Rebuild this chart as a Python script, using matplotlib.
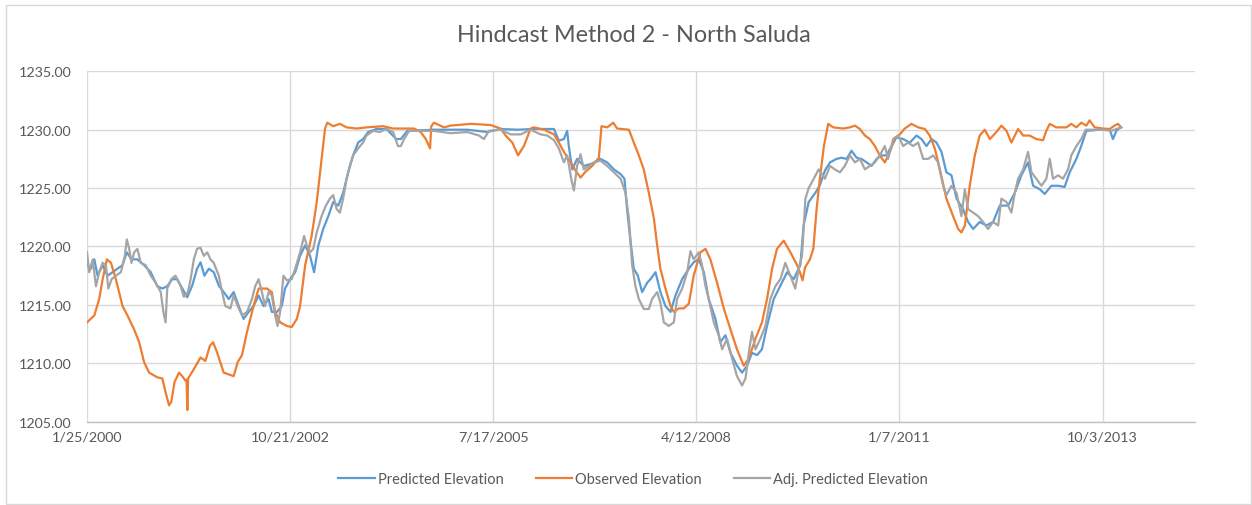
import numpy as np
import pandas as pd
import matplotlib
matplotlib.use("Agg")
import matplotlib.pyplot as plt
from matplotlib.patches import Rectangle

# days are counted from the first date on the axis (1/25/2000)
start_date = "2000-01-25"

obs_days = [0, 36, 60, 77, 98, 118, 142, 175, 199, 232, 257, 281, 306, 346, 371, 387, 404, 415,
            431, 453, 469, 485, 490, 494, 498, 526, 559, 583, 605, 621, 641, 673, 722, 742, 763,
            788, 820, 845, 886, 910, 926, 951, 984, 1008, 1033, 1049, 1074, 1106, 1131, 1155,
            1172, 1183, 1212, 1245, 1278, 1327, 1376, 1458, 1507,
            1545, 1610, 1643, 1668, 1689, 1695, 1708, 1758, 1790, 1889, 1987, 2036, 2061, 2094,
            2122, 2151, 2184, 2200, 2250, 2299, 2323, 2348, 2381, 2405, 2430, 2454, 2487, 2520,
            2533, 2561, 2591, 2610, 2668, 2692, 2717, 2741, 2766, 2791, 2807, 2823, 2848, 2873,
            2889, 2914, 2938, 2963, 2987, 3020, 3045, 3069, 3102, 3135, 3168, 3200, 3233, 3258,
            3291, 3323, 3348, 3373, 3397, 3430, 3463, 3496,
            3510, 3523, 3535, 3559, 3576, 3592, 3608, 3628, 3649, 3674, 3723, 3756, 3781, 3805,
            3830, 3854, 3879, 3903, 3928, 3953, 3977, 4002, 4026, 4059, 4092, 4125, 4149, 4174,
            4199, 4231, 4264, 4289, 4305, 4322, 4346, 4371, 4395, 4420, 4445, 4477, 4502, 4527,
            4551, 4568, 4584, 4609, 4641, 4674, 4707, 4723, 4740, 4772, 4822, 4846, 4871, 4895,
            4920, 4936, 4961, 5002, 5035, 5059, 5076, 5092]
observed = [1213.5, 1214.1, 1215.5, 1217.2, 1218.9, 1218.6, 1217.2, 1214.9, 1214.1, 1212.9, 1211.8,
            1210.1, 1209.2, 1208.8, 1208.7, 1207.5, 1206.4, 1206.7, 1208.4, 1209.2, 1208.9, 1208.5,
            1208.6, 1206.0, 1208.7, 1209.5, 1210.5, 1210.2, 1211.5, 1211.8, 1210.9, 1209.2, 1208.9,
            1210.1, 1210.7, 1212.7, 1214.9, 1216.4, 1216.4, 1216.1, 1214.4, 1213.5, 1213.2, 1213.1,
            1213.8, 1214.9, 1218.4, 1220.9, 1223.8, 1227.5, 1230.1, 1230.6, 1230.3, 1230.5, 1230.2,
            1230.1, 1230.2, 1230.3, 1230.1,
            1230.1, 1230.1, 1229.8, 1229.2, 1228.4, 1230.3, 1230.6, 1230.2, 1230.35, 1230.5, 1230.4,
            1230.1, 1229.5, 1228.9, 1227.8, 1228.6, 1230.1, 1230.2, 1230.0, 1229.6, 1228.9, 1228.1,
            1227.2, 1226.5, 1225.9, 1226.4, 1226.9, 1227.6, 1230.3, 1230.2, 1230.6, 1230.1, 1230.0,
            1228.9, 1227.8, 1226.6, 1224.6, 1222.4, 1220.1, 1218.1, 1216.4, 1214.9, 1214.4, 1214.7,
            1214.7, 1215.1, 1217.5, 1219.5, 1219.8, 1218.9, 1216.9, 1214.7, 1212.9, 1211.2, 1209.8,
            1210.4, 1212.1, 1213.5, 1215.5, 1218.1, 1219.8, 1220.5, 1219.5, 1218.4,
            1217.8, 1217.1, 1218.2, 1218.9, 1219.8, 1223.2, 1225.8, 1228.6, 1230.5, 1230.2, 1230.1,
            1230.2, 1230.35, 1230.06, 1229.5, 1229.2, 1228.6, 1227.8, 1227.2, 1228.1, 1229.3, 1229.6,
            1230.1, 1230.5, 1230.2, 1230.06, 1229.5, 1228.4, 1226.6, 1224.1, 1222.6, 1221.5, 1221.2,
            1221.8, 1225.2, 1227.8, 1229.5, 1230.0, 1229.2, 1229.8, 1230.35, 1229.9, 1228.9, 1229.5,
            1230.06, 1229.5, 1229.5, 1229.2, 1229.1, 1229.9, 1230.5, 1230.2, 1230.2, 1230.5, 1230.2,
            1230.6, 1230.35, 1230.8, 1230.2, 1230.1, 1230.06, 1230.35, 1230.5, 1230.2]

pred_days = [0, 20, 36, 52, 77, 101, 126, 150, 175, 196, 219, 248, 281, 314, 346, 371, 395, 420,
             444, 469, 493, 518, 542, 559, 578, 600, 624, 649, 673, 698, 722, 747, 771, 796, 820,
             845, 869, 894, 910, 935, 959, 975, 1000, 1025, 1049, 1074, 1098, 1118, 1139, 1163,
             1188, 1212, 1237, 1261, 1286, 1310, 1335, 1359, 1384, 1425, 1474, 1523,
             1545, 1577, 1708, 1872, 1971, 2036, 2118, 2200, 2299, 2323, 2348, 2364, 2372, 2389,
             2413, 2446, 2487, 2528, 2561, 2594, 2627, 2646, 2659, 2676, 2692, 2712, 2733, 2758,
             2774, 2799, 2823, 2848, 2873, 2897, 2930, 2963, 2987, 3012, 3037, 3061, 3094, 3118,
             3143, 3168, 3200, 3225, 3250, 3274, 3299, 3323, 3348, 3381, 3414, 3447, 3479, 3512,
             3528, 3553, 3586, 3607,
             3633, 3658, 3690, 3715, 3740, 3764, 3789, 3813, 3838, 3863, 3887, 3912, 3936, 3961,
             3985, 4018, 4051, 4084, 4108, 4133, 4158, 4182, 4207, 4231, 4256, 4281, 4313, 4338,
             4363, 4395, 4428, 4461, 4494, 4535, 4568, 4600, 4633, 4658, 4691, 4715, 4748, 4781,
             4813, 4838, 4871, 4895, 4920, 4986, 5035, 5051, 5068, 5087]
predicted = [1218.4, 1218.1, 1218.9, 1217.5, 1218.4, 1217.5, 1217.8, 1218.1, 1218.4, 1219.5, 1218.9,
             1218.9, 1218.4, 1217.8, 1216.6, 1216.4, 1216.6, 1217.2, 1217.2, 1216.4, 1215.65,
             1216.65, 1218.1, 1218.65, 1217.5, 1218.1, 1217.8, 1216.65, 1216.1, 1215.5, 1216.1,
             1214.9, 1213.8, 1214.4, 1214.9, 1215.8, 1214.9, 1215.5, 1214.4, 1214.4, 1214.9, 1216.4,
             1217.2, 1217.8, 1219.2, 1220.1, 1219.2, 1217.8, 1220.1, 1221.5, 1222.6, 1223.8, 1223.5,
             1224.6, 1226.35, 1227.8, 1228.9, 1229.2, 1229.8, 1230.06, 1230.06, 1229.2,
             1229.2, 1229.9, 1230.0, 1230.0, 1229.8, 1230.06, 1230.0, 1230.06, 1230.06, 1229.06,
             1229.2, 1229.9, 1228.6, 1226.6, 1227.5, 1226.9, 1227.1, 1227.5, 1227.2, 1226.6, 1226.2,
             1225.8, 1223.2, 1220.4, 1218.1, 1217.5, 1216.1, 1216.9, 1217.2, 1217.8, 1216.1, 1214.9,
             1214.4, 1215.8, 1217.2, 1218.1, 1218.65, 1218.9, 1217.8, 1215.5, 1213.8, 1211.8, 1212.4,
             1210.9, 1209.8, 1209.2, 1209.8, 1210.9, 1210.7, 1211.2, 1213.2, 1215.5, 1216.65, 1217.8,
             1217.2, 1218.4, 1221.8, 1223.8, 1224.6, 1225.2,
             1226.5, 1227.2, 1227.5, 1227.6, 1227.5, 1228.2, 1227.6, 1227.5, 1227.2, 1226.9, 1227.5,
             1227.8, 1227.8, 1228.6, 1229.35, 1229.2, 1228.9, 1229.5, 1229.2, 1228.6, 1229.2, 1228.9,
             1228.1, 1226.35, 1226.1, 1224.1, 1223.2, 1222.1, 1221.5, 1222.1, 1221.8, 1222.1, 1223.5,
             1223.5, 1224.6, 1226.1, 1227.2, 1225.2, 1224.9, 1224.5, 1225.2, 1225.2, 1225.1, 1226.35,
             1227.5, 1228.6, 1229.9, 1230.0, 1230.0, 1229.2, 1229.9, 1230.2]

adj_days = [0, 11, 28, 44, 60, 77, 93, 105, 121, 142, 167, 186, 196, 208, 219, 232, 248, 265, 289,
            314, 338, 363, 376, 387, 395, 415, 436, 461, 477, 497, 510, 526, 542, 559, 575, 592,
            608, 624, 649, 665, 681, 706, 722, 742, 763, 788, 812, 828, 845, 861, 877, 894, 910,
            926, 938, 951, 967, 984, 1008, 1025, 1049, 1069, 1082, 1098, 1114, 1131, 1155, 1176,
            1196, 1212, 1229, 1245, 1261, 1278, 1294, 1310, 1335, 1359, 1376, 1409, 1441, 1474,
            1507, 1531,
            1545, 1561, 1586, 1626, 1708, 1790, 1872, 1930, 1954, 1979, 2036, 2086, 2135, 2184,
            2233, 2266, 2299, 2323, 2348, 2364, 2384, 2397, 2413, 2430, 2446, 2471, 2495, 2528,
            2561, 2594, 2627, 2651, 2668, 2684, 2700, 2717, 2741, 2766, 2782, 2807, 2823, 2840,
            2864, 2889, 2905, 2930, 2955, 2971, 2987, 3012, 3028, 3045, 3061, 3086, 3110, 3127,
            3151, 3176, 3200, 3225, 3242, 3258, 3274, 3291, 3315, 3340, 3364, 3389, 3414, 3438,
            3463, 3487, 3504, 3520, 3537, 3553, 3578, 3602,
            3633, 3658, 3682, 3707, 3731, 3756, 3781, 3805, 3830, 3854, 3879, 3903, 3928, 3944,
            3969, 3994, 4018, 4043, 4067, 4092, 4117, 4141, 4166, 4190, 4215, 4231, 4256, 4281,
            4305, 4322, 4338, 4363, 4387, 4412, 4436, 4461, 4486, 4502, 4527, 4551, 4568, 4584,
            4609, 4633, 4650, 4674, 4699, 4723, 4740, 4756, 4781, 4805, 4830, 4846, 4871, 4895,
            4917, 4953, 5002, 5043, 5068, 5092]
adjusted = [1219.5, 1217.8, 1218.9, 1216.6, 1217.8, 1218.6, 1218.4, 1216.4, 1217.2, 1217.5, 1217.8,
            1219.2, 1220.6, 1219.8, 1218.6, 1219.5, 1219.8, 1218.6, 1218.4, 1217.5, 1216.9, 1216.1,
            1214.4, 1213.5, 1216.4, 1217.2, 1217.5, 1216.6, 1215.7, 1216.1, 1217.2, 1218.9, 1219.8,
            1219.9, 1219.2, 1219.5, 1218.9, 1218.6, 1217.5, 1216.1, 1214.9, 1214.7, 1215.8, 1214.9,
            1214.1, 1214.4, 1215.5, 1216.6, 1217.2, 1216.1, 1214.9, 1216.1, 1215.8, 1214.1, 1213.2,
            1214.4, 1217.5, 1217.1, 1217.2, 1218.1, 1219.5, 1220.9, 1220.1, 1219.5, 1219.8, 1221.2,
            1222.6, 1223.5, 1224.1, 1224.4, 1223.2, 1222.9, 1224.1, 1225.8, 1226.9, 1227.8, 1228.4,
            1228.9, 1229.5, 1229.9, 1229.8, 1230.06, 1229.8, 1228.6,
            1228.6, 1229.2, 1229.9, 1229.9, 1229.9, 1229.7, 1229.8, 1229.5, 1229.2, 1229.9, 1230.0,
            1229.6, 1229.6, 1230.0, 1229.6, 1229.5, 1229.1, 1228.4, 1227.2, 1227.8, 1225.8, 1224.8,
            1226.9, 1227.9, 1226.6, 1226.9, 1227.2, 1227.35, 1226.9, 1226.35, 1225.8, 1224.6, 1222.4,
            1218.4, 1216.6, 1215.5, 1214.65, 1214.65, 1215.5, 1216.1, 1215.2, 1213.5, 1213.2, 1213.5,
            1215.5, 1216.4, 1217.8, 1219.6, 1218.9, 1219.5, 1218.4, 1216.6, 1215.5, 1213.5, 1212.4,
            1211.2, 1212.1, 1210.4, 1208.9, 1208.1, 1208.7, 1210.9, 1212.7, 1211.2, 1212.1, 1213.2,
            1215.5, 1216.6, 1217.2, 1218.6, 1217.5, 1216.4, 1218.1, 1219.2, 1224.1, 1225.0, 1225.8,
            1226.6,
            1225.8, 1226.9, 1226.6, 1226.35, 1226.9, 1227.8, 1227.2, 1227.5, 1226.6, 1226.9, 1227.2,
            1227.8, 1228.6, 1227.5, 1229.2, 1229.5, 1228.6, 1228.9, 1228.6, 1228.9, 1227.5, 1227.5,
            1227.8, 1227.2, 1225.2, 1224.4, 1225.2, 1224.6, 1222.6, 1224.9, 1223.2, 1222.9, 1222.6,
            1222.1, 1221.5, 1222.1, 1221.8, 1224.1, 1223.8, 1222.9, 1224.6, 1225.8, 1226.6, 1228.1,
            1226.35, 1225.8, 1225.2, 1225.8, 1227.5, 1225.8, 1226.1, 1225.8, 1226.6, 1227.8, 1228.6,
            1229.2, 1230.0, 1230.0, 1230.0, 1229.9, 1230.06, 1230.2]

tick_labels = ["1/25/2000", "10/21/2002", "7/17/2005", "4/12/2008", "1/7/2011", "10/3/2013"]
series_names = ["Predicted Elevation", "Observed Elevation", "Adj. Predicted Elevation"]

blue = "#5B9BD5"
orange = "#ED7D31"
grey = "#A5A5A5"
txt = "#595959"
gridc = "#D9D9D9"

plt.rcParams["font.family"] = ["Lato", "DejaVu Sans"]

t0 = pd.Timestamp(start_date)
def to_dates(d):
    return t0 + pd.to_timedelta(np.array(d), unit="D")

fig = plt.figure(figsize=(12.52, 5.06), dpi=100)
ax = fig.add_axes([87 / 1252, 1 - 422.7 / 506, (1195 - 87) / 1252, (422.7 - 72.3) / 506])

ax.plot(to_dates(pred_days), predicted, color=blue, lw=1.6, label=series_names[0])
ax.plot(to_dates(obs_days), observed, color=orange, lw=1.6, label=series_names[1])
ax.plot(to_dates(adj_days), adjusted, color=grey, lw=1.6, label=series_names[2])

ax.set_ylim(1205, 1235)
ax.set_yticks(np.arange(1205, 1236, 5))
ax.set_yticklabels(["%.2f" % v for v in np.arange(1205, 1236, 5)])
ax.set_xlim(t0, t0 + pd.Timedelta(days=5455))
ax.set_xticks(to_dates([0, 1000, 2000, 3000, 4000, 5000]))
ax.set_xticklabels(tick_labels)

ax.grid(True, color=gridc, lw=1.0)
ax.set_axisbelow(True)
for s in ["top", "right", "left"]:
    ax.spines[s].set_visible(False)
ax.spines["bottom"].set_color("#BFBFBF")
ax.spines["bottom"].set_linewidth(1.0)
ax.tick_params(axis="y", length=0, pad=11, labelsize=10.3, labelcolor=txt)
ax.tick_params(axis="x", length=0, pad=6, labelsize=10.3, labelcolor=txt)

fig.text(0.506, 1 - 35 / 506, "Hindcast Method 2 - North Saluda", ha="center", va="center",
         fontsize=16.8, color=txt)

fig.legend(loc="center", bbox_to_anchor=(0.5056, 1 - 480 / 506), ncol=3, frameon=False,
           fontsize=10.5, labelcolor=txt, handlelength=2.5, handletextpad=0.2, columnspacing=2.2)

fig.patches.append(Rectangle((6 / 1252, 1 / 506), 1245 / 1252, 499 / 506, transform=fig.transFigure,
                             fill=False, edgecolor=gridc, lw=1.0))

fig.savefig("out.png", dpi=100)
